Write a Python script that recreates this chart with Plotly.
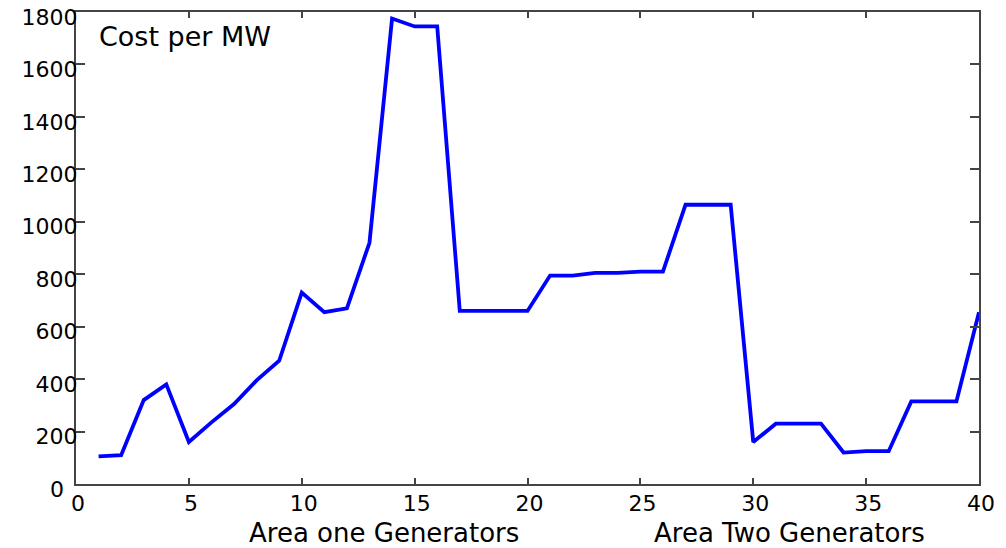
import plotly.graph_objects as go

generators = list(range(1, 41))
cost_per_mw = [105, 110, 320, 380, 160, 235, 305, 395, 470, 730,
               655, 670, 920, 1775, 1745, 1745, 660, 660, 660, 660,
               795, 795, 805, 805, 810, 810, 1065, 1065, 1065, 160,
               230, 230, 230, 120, 125, 125, 315, 315, 315, 655]
x_ticks = [0, 5, 10, 15, 20, 25, 30, 35, 40]
y_ticks = [0, 200, 400, 600, 800, 1000, 1200, 1400, 1600, 1800]
y_tick_labels = ["0", "200", "400", "600", "800", "1000", "1200", "1400", "1600", "1800"]
chart_label = "Cost per MW"
group_labels = ["Area one Generators", "Area Two Generators"]
group_centers = [13.65, 31.6]

FONT = "DejaVu Sans"

fig = go.Figure()
fig.add_trace(go.Scatter(x=generators, y=cost_per_mw, mode="lines",
                         line=dict(color="#0000FF", width=3.8),
                         showlegend=False, hoverinfo="x+y"))

fig.add_annotation(x=0.93, y=1705, xref="x", yref="y", text=chart_label,
                   showarrow=False, xanchor="left", yanchor="middle",
                   font=dict(family=FONT, size=27, color="black"))
for lbl, cx in zip(group_labels, group_centers):
    fig.add_annotation(x=cx, y=-0.104, xref="x", yref="paper", text=lbl,
                       showarrow=False, xanchor="center", yanchor="middle",
                       font=dict(family=FONT, size=26, color="black"))

# the y-axis "0" sits further left than the other labels (clear of the x "0")
y_text = ["" if v == 0 else t for v, t in zip(y_ticks, y_tick_labels)]
fig.add_annotation(x=-0.011, y=y_ticks[0], xref="paper", yref="y",
                   text=y_tick_labels[0], showarrow=False,
                   xanchor="right", yanchor="middle", yshift=-5,
                   font=dict(family=FONT, size=22, color="black"))

axis_common = dict(showgrid=False, zeroline=False, showline=True,
                   linecolor="#444444", linewidth=2, mirror="ticks",
                   ticks="inside", tickcolor="#444444", tickwidth=1.5,
                   automargin=False)

fig.update_xaxes(range=[0, 40], tickvals=x_ticks, ticklen=6,
                 tickfont=dict(family=FONT, size=22, color="black"),
                 ticklabelstandoff=-1, ticklabelshift=2, **axis_common)
fig.update_yaxes(range=[0, 1800], tickvals=y_ticks, ticktext=y_text, ticklen=9,
                 tickfont=dict(family=FONT, size=22, color="black"),
                 ticklabelshift=5, ticklabelstandoff=-8,
                 ticklabeloverflow="allow", **axis_common)

fig.update_layout(width=1006, height=548, autosize=False,
                  margin=dict(l=76, r=27, t=12, b=64),
                  paper_bgcolor="white", plot_bgcolor="white")

fig.write_html("out.html", config={"displayModeBar": False},
               post_script="document.body.style.margin='0';document.body.style.padding='0';")
